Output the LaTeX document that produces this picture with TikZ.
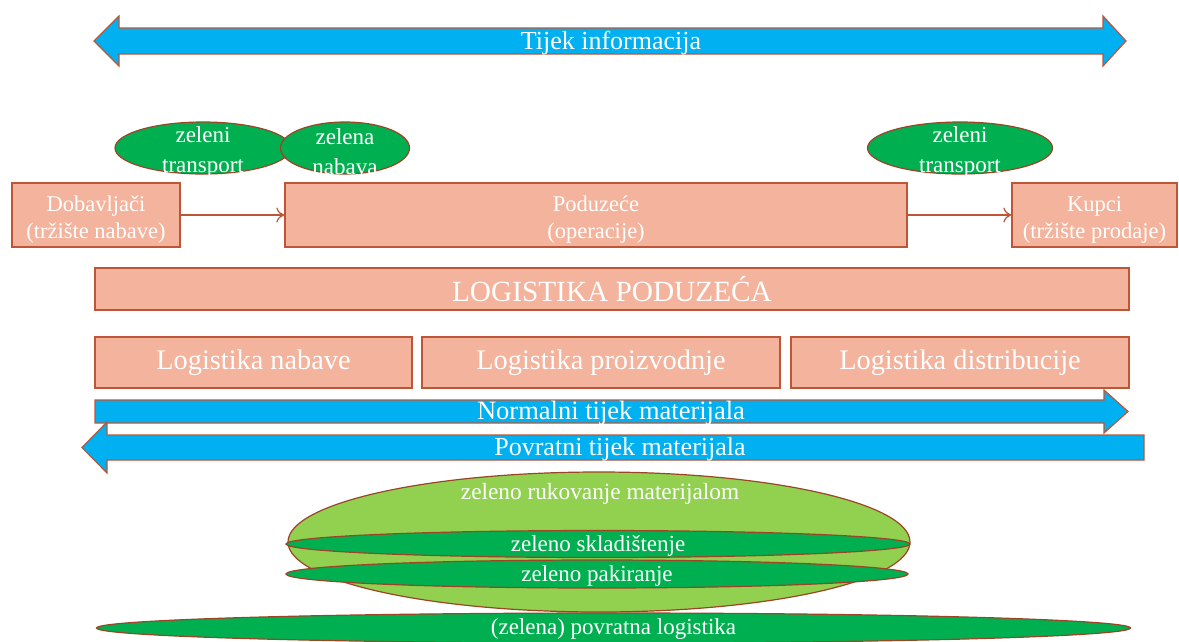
\documentclass[tikz,border=0pt]{standalone}
\usepackage{fontspec}
\setmainfont{Liberation Serif}
\usetikzlibrary{shapes.geometric,arrows.meta}
\definecolor{salmon}{HTML}{F3B39C}
\definecolor{edge}{HTML}{BC5637}
\definecolor{arrblue}{HTML}{00B0F0}
\definecolor{dgreen}{HTML}{00B050}
\definecolor{lgreen}{HTML}{92D050}
\definecolor{gedge}{HTML}{9C4426}
\tikzset{
  box/.style={draw=edge, fill=salmon, line width=1.4pt, inner sep=0pt, text=white, align=center},
  oval/.style={ellipse, draw=gedge, line width=1.2pt, inner sep=0pt},
  bigarrow/.style={draw=edge, fill=arrblue, line width=1.2pt, line join=miter},
  lbl/.style={text=white, align=center, inner sep=0pt},
  conn/.style={draw=edge, line width=1.2pt, -{To[length=8pt,width=15pt]}},
  small/.style={font=\fontsize{22.5}{27}\selectfont},
}
\begin{document}
\begin{tikzpicture}[x=1pt,y=-1pt]
\useasboundingbox (0,0) rectangle (1179,641);
% top double arrow
\draw[bigarrow] (94,41) -- (119,16) -- (119,28) -- (1103,28) -- (1103,16) -- (1126,41) -- (1103,66) -- (1103,54) -- (119,54) -- (119,66) -- cycle;
\node[lbl, font=\fontsize{26}{30}\selectfont] (tijek) at (611,43) {Tijek informacija};

% green ellipses top
\node[oval, fill=dgreen, minimum width=176pt, minimum height=52pt] (zt1) at (203,148) {};
\node[oval, fill=dgreen, minimum width=129pt, minimum height=52pt] (zn) at (345,148) {};
\node[oval, fill=dgreen, minimum width=185pt, minimum height=52pt] (zt2) at (960,148) {};
\node[lbl, font=\fontsize{23}{30}\selectfont] (zt1t) at ([yshift=-4pt]zt1.center) {zeleni\\transport};
\node[lbl, font=\fontsize{23}{30}\selectfont] (znt) at ([yshift=-4pt]zn.center) {zelena\\nabava};
\node[lbl, font=\fontsize{23}{30}\selectfont] (zt2t) at ([yshift=-4pt]zt2.center) {zeleni\\transport};

% boxes
\node[box, minimum width=168pt, minimum height=64pt] (dob) at (96,215) {};
\node[box, minimum width=622pt, minimum height=64pt] (pod) at (596,215) {};
\node[box, minimum width=165pt, minimum height=64pt] (kup) at (1094.5,215) {};
\node[lbl, small] (dobt) at ([yshift=-5pt]dob.center) {Dobavljači\\(tržište nabave)};
\node[lbl, small] (podt) at ([yshift=-5pt]pod.center) {Poduzeće\\(operacije)};
\node[lbl, small] (kupt) at ([yshift=-5pt]kup.center) {Kupci\\(tržište prodaje)};
\draw[conn] (dob.east) -- (pod.west);
\draw[conn] (pod.east) -- (kup.west);

\node[box, minimum width=1034pt, minimum height=42pt, font=\fontsize{29.3}{32}\selectfont] (logp) at (612,289) {LOGISTIKA PODUZEĆA};
\node[box, minimum width=317pt, minimum height=51pt, font=\fontsize{28.3}{32}\selectfont] (nab) at (253.5,362.5) {Logistika nabave};
\node[box, minimum width=358pt, minimum height=51pt, font=\fontsize{28.3}{32}\selectfont] (pro) at (601,362.5) {Logistika proizvodnje};
\node[box, minimum width=338pt, minimum height=51pt, font=\fontsize{28.3}{32}\selectfont] (dis) at (960,362.5) {Logistika distribucije};

% material flow arrows
\draw[bigarrow] (95,400) -- (1104,400) -- (1104,390) -- (1128,411.5) -- (1104,433) -- (1104,423) -- (95,423) -- cycle;
\node[lbl, font=\fontsize{26.5}{30}\selectfont] (norm) at (611,413) {Normalni tijek materijala};
\draw[bigarrow] (82,447.5) -- (107,422) -- (107,435) -- (1144,435) -- (1144,460) -- (107,460) -- (107,473) -- cycle;
\node[lbl, font=\fontsize{26}{30}\selectfont] (povr) at (620,449.5) {Povratni tijek materijala};

% bottom ellipses
\node[oval, fill=lgreen, minimum width=622pt, minimum height=140pt] (ruk) at (599,542) {};
\node[oval, fill=dgreen, minimum width=624pt, minimum height=27pt] (skl) at (598,544) {};
\node[oval, fill=dgreen, minimum width=622pt, minimum height=28pt] (pak) at (597,574) {};
\node[oval, fill=dgreen, minimum width=1034pt, minimum height=30pt] (pov) at (613.5,628) {};
\node[lbl, font=\fontsize{23.3}{26}\selectfont] (rukt) at (600,494) {zeleno rukovanje materijalom};
\node[lbl, font=\fontsize{23}{26}\selectfont] (sklt) at ([yshift=-2pt]skl.center) {zeleno skladištenje};
\node[lbl, font=\fontsize{23}{26}\selectfont] (pakt) at ([yshift=-2pt]pak.center) {zeleno pakiranje};
\node[lbl, font=\fontsize{23}{26}\selectfont] (povt) at ([yshift=-1pt]pov.center) {(zelena) povratna logistika};
\end{tikzpicture}
\end{document}
